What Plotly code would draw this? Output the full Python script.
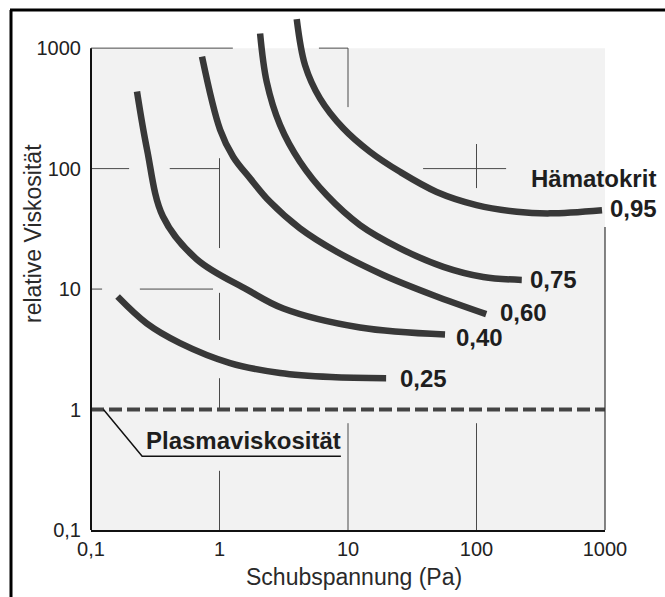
import math
import plotly.graph_objects as go

# ---------------- data ----------------
hkt_labels = ["0,25", "0,40", "0,60", "0,75", "0,95"]

x_025 = [0.161, 0.271, 0.493, 1.21, 2.96, 7.38, 19.8]
y_025 = [8.66, 5.19, 3.56, 2.43, 2.01, 1.86, 1.82]

x_040 = [0.228, 0.273, 0.363, 0.668, 1.64, 3.14, 12.4, 56.9]
y_040 = [436, 144, 40, 17.6, 9.9, 6.9, 4.8, 4.2]

x_060 = [0.731, 1.01, 1.28, 1.73, 2.47, 4.23, 8.17, 18.8, 46.1, 119]
y_060 = [850, 211, 125, 83, 53, 31.9, 20.4, 13.1, 8.9, 6.2]

x_075 = [2.07, 2.33, 2.96, 4.23, 6.82, 12.4, 25.4, 55.2, 113, 225]
y_075 = [1324, 525, 230, 114, 60.3, 34, 21.8, 15.3, 12.6, 11.9]

x_095 = [3.99, 4.63, 6.05, 9.18, 14.8, 25.4, 49, 100, 206, 373, 948]
y_095 = [1741, 723, 383, 216, 138, 94, 64, 49.8, 43.8, 42.5, 45.2]

plasma_x = [0.1, 1000]
plasma_y = [1, 1]

tick_vals = [0.1, 1, 10, 100, 1000]
tick_text = ["0,1", "1", "10", "100", "1000"]

# leader line for "Plasmaviskosität"
leader_x = [0.125, 0.25, 8.8]
leader_y = [1.0, 0.41, 0.41]

# decorative grid fragments (x list, y list)
grid_segments = [
    ([0.1, 1.27], [1000, 1000]),
    ([5.94, 10], [1000, 1000]),
    ([10, 10], [1000, 324]),
    ([0.1, 0.198], [100, 100]),
    ([0.41, 1.0], [100, 100]),
    ([1, 1], [122, 21.9]),
    ([1, 1], [9.3, 3.78]),
    ([1, 1], [1.82, 1.0]),
    ([0.1, 0.122], [10, 10]),
    ([0.24, 0.89], [10, 10]),
    ([38.4, 170], [100, 100]),
    ([100, 100], [160, 68.9]),
    ([1, 1], [0.31, 0.1]),
    ([10, 10], [0.77, 0.1]),
    ([100, 100], [0.77, 0.1]),
]

# ---------------- layout constants ----------------
X_RANGE = [-1, 3]
Y_RANGE = [-1, 3.3]
W, H = 665, 597
ML, MR, MT, MB = 91, 60, 12, 67
PW, PH = W - ML - MR, H - MT - MB

def px2paper_x(px):
    return (px - ML) / PW

def py2paper_y(py):
    return (H - MB - py) / PH

def yfrac(v):
    return (math.log10(v) - Y_RANGE[0]) / (Y_RANGE[1] - Y_RANGE[0])

CURVE_COLOR = "#383838"
LABEL_FONT = dict(family="Liberation Sans, Arial, sans-serif", size=24, color="#1e1e1e")
TEXT_FONT = dict(family="Liberation Sans, Arial, sans-serif", size=23, color="#2a2a2a")

fig = go.Figure()

# grid fragments
for gx, gy in grid_segments:
    fig.add_trace(go.Scatter(x=gx, y=gy, mode="lines",
                             line=dict(color="#4a4a4a", width=1),
                             hoverinfo="skip", showlegend=False))

# plasma viscosity dashed line
fig.add_trace(go.Scatter(x=plasma_x, y=plasma_y, mode="lines",
                         line=dict(color="#444444", width=4, dash="13px,5px"),
                         showlegend=False))

# leader line
fig.add_trace(go.Scatter(x=leader_x, y=leader_y, mode="lines",
                         line=dict(color="#111111", width=1.5),
                         showlegend=False))

curves = [(x_025, y_025), (x_040, y_040), (x_060, y_060), (x_075, y_075), (x_095, y_095)]
for (cx, cy), lab in zip(curves, hkt_labels):
    fig.add_trace(go.Scatter(x=cx, y=cy, mode="lines", name=lab,
                             line=dict(color=CURVE_COLOR, width=6.5, shape="spline", smoothing=1.0),
                             showlegend=False))

# curve labels at curve ends
label_shifts = [(12, 0), (9, -3), (12, 2), (6, 0), (6, 2)]
annotations = []
for (cx, cy), lab, (dx, dy) in zip(curves, hkt_labels, label_shifts):
    annotations.append(dict(x=math.log10(cx[-1]), y=math.log10(cy[-1]), xref="x", yref="y",
                            text="<b>%s</b>" % lab, showarrow=False, xanchor="left",
                            yanchor="middle", xshift=dx, yshift=dy, font=LABEL_FONT))
annotations.append(dict(x=math.log10(x_095[-1]), y=math.log10(y_095[-1]), xref="x", yref="y",
                        text="<b>Hämatokrit</b>", showarrow=False, xanchor="right",
                        yanchor="middle", xshift=56, yshift=32, font=LABEL_FONT))
annotations.append(dict(x=math.log10(leader_x[1]), y=math.log10(leader_y[1]), xref="x", yref="y",
                        text="<b>Plasmaviskosität</b>", showarrow=False, xanchor="left",
                        yanchor="bottom", xshift=2, yshift=0, font=LABEL_FONT))
# axis titles
annotations.append(dict(x=px2paper_x(33), y=py2paper_y(234), xref="paper", yref="paper",
                        text="relative Viskosität", textangle=-90, showarrow=False,
                        xanchor="center", yanchor="middle", font=TEXT_FONT))
annotations.append(dict(x=px2paper_x(354), y=py2paper_y(577), xref="paper", yref="paper",
                        text="Schubspannung (Pa)", showarrow=False,
                        xanchor="center", yanchor="middle", font=TEXT_FONT))

shapes = [
    # stippled background
    dict(type="rect", xref="paper", yref="paper", x0=0, x1=1, y0=0, y1=yfrac(1000),
         fillcolor="#f2f2f2", line=dict(width=0), layer="below"),
    # y axis line
    dict(type="line", xref="paper", yref="paper", x0=0, x1=0, y0=0, y1=yfrac(1000),
         line=dict(color="#111111", width=2)),
    # right edge line
    dict(type="line", xref="paper", yref="paper", x0=1, x1=1, y0=0, y1=yfrac(32.7),
         line=dict(color="#333333", width=1.2)),
    # outer frame
    dict(type="line", xref="paper", yref="paper", x0=px2paper_x(11), x1=px2paper_x(11),
         y0=py2paper_y(10), y1=py2paper_y(600), line=dict(color="#000000", width=3)),
    dict(type="line", xref="paper", yref="paper", x0=px2paper_x(10), x1=px2paper_x(670),
         y0=py2paper_y(10), y1=py2paper_y(10), line=dict(color="#000000", width=3)),
]

tick_font = dict(family="Liberation Sans, Arial, sans-serif", size=20, color="#222222")

fig.update_layout(
    width=W, height=H,
    margin=dict(l=ML, r=MR, t=MT, b=MB),
    paper_bgcolor="white", plot_bgcolor="rgba(0,0,0,0)",
    xaxis=dict(type="log", range=X_RANGE, tickvals=tick_vals, ticktext=tick_text,
               showgrid=False, zeroline=False, showline=True, linecolor="#111111", linewidth=2,
               ticks="", ticklabelstandoff=0, tickfont=tick_font),
    yaxis=dict(type="log", range=Y_RANGE, tickvals=tick_vals, ticktext=tick_text,
               showgrid=False, zeroline=False, showline=False,
               ticks="", ticklabelstandoff=9, tickfont=tick_font),
    annotations=annotations,
    shapes=shapes,
    showlegend=False,
)

fig.write_html("out.html")
